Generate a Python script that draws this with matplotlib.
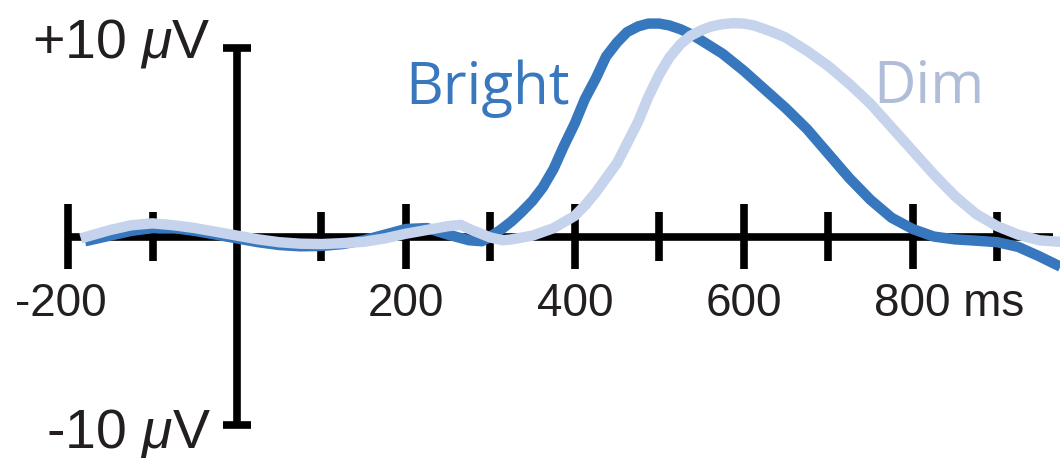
import matplotlib
matplotlib.use("Agg")
import matplotlib.pyplot as plt

plt.rcParams['font.family'] = ['Liberation Sans', 'DejaVu Sans']
plt.rcParams['mathtext.fontset'] = 'custom'
plt.rcParams['mathtext.rm'] = 'Liberation Sans'
plt.rcParams['mathtext.it'] = 'Liberation Sans:italic'

# ERP waveforms (ms, microvolts)
bright_t = [-180, -150, -125, -100, -75, -50, -25, 0, 25, 50, 75, 100, 125, 150, 175,
            200, 225, 250, 275, 290, 300, 312, 325, 337, 350, 362, 375, 387, 400, 412,
            425, 437, 450, 462, 475, 487, 500, 512, 525, 537, 550, 575, 600, 625, 650,
            675, 700, 725, 750, 775, 800, 825, 850, 875, 900, 925, 950, 975]
bright_v = [-0.25, 0.05, 0.3, 0.45, 0.45, 0.3, 0.1, -0.1, -0.3, -0.45, -0.52, -0.5, -0.4, -0.2, 0.1,
            0.4, 0.45, 0.1, -0.2, -0.25, 0.0, 0.35, 0.8, 1.3, 1.9, 2.6, 3.6, 4.8, 6.0, 7.3,
            8.4, 9.55, 10.3, 10.85, 11.15, 11.3, 11.3, 11.2, 11.0, 10.75, 10.4, 9.7, 8.8, 7.8, 6.8,
            5.7, 4.4, 3.1, 1.95, 1.0, 0.4, 0.0, -0.15, -0.22, -0.3, -0.55, -1.05, -1.6]

dim_t = [-185, -150, -125, -100, -75, -50, -25, 0, 25, 50, 75, 100, 125, 150, 175,
         200, 225, 250, 265, 275, 300, 315, 325, 350, 375, 400, 412, 425, 437, 450,
         462, 475, 487, 500, 512, 525, 537, 550, 562, 575, 587, 600, 612, 625, 637,
         650, 675, 700, 725, 750, 775, 800, 825, 850, 875, 900, 925, 950, 975]
dim_v = [-0.1, 0.35, 0.6, 0.7, 0.6, 0.45, 0.25, 0.05, -0.15, -0.3, -0.38, -0.4, -0.35, -0.28, -0.1,
         0.15, 0.35, 0.55, 0.62, 0.4, -0.05, -0.2, -0.15, 0.05, 0.45, 1.1, 1.65, 2.35, 3.1, 3.9,
         4.95, 6.1, 7.4, 8.6, 9.5, 10.2, 10.65, 10.95, 11.15, 11.27, 11.32, 11.3, 11.2, 11.0, 10.8,
         10.55, 9.85, 9.05, 8.1, 7.05, 5.8, 4.55, 3.3, 2.15, 1.2, 0.55, 0.1, -0.2, -0.28]

long_ticks = [-200, 200, 400, 600, 800]
short_ticks = [-100, 100, 300, 500, 700, 900]
tick_labels = ["-200", "200", "400", "600", "800 ms"]
x_end = 966
y_range = 10

blue = "#3777be"
pale = "#c5d3ec"

fig = plt.figure(figsize=(10.6, 4.58), dpi=100)
ax = fig.add_axes([0, 0, 1, 1])
ax.set_xlim(-280.6, 974.5)
ax.set_ylim(-11.75, 12.55)
ax.axis("off")

axis_kw = dict(color="black", lw=5.5, solid_capstyle="butt", zorder=1)

# time axis with ticks
ax.plot([-200, x_end], [0, 0], **axis_kw)
for t in long_ticks:
    ax.plot([t, t], [-1.72, 1.72], **axis_kw)
for t in short_ticks:
    ax.plot([t, t], [-1.28, 1.28], **axis_kw)

# voltage axis with end caps
ax.plot([0, 0], [-y_range, y_range], **axis_kw)
for v in (-y_range, y_range):
    ax.plot([-16.6, 16.6], [v, v], **axis_kw)

# waveforms
ax.plot(bright_t, bright_v, color=blue, lw=7.5, solid_capstyle="butt",
        solid_joinstyle="round", zorder=3)
ax.plot(dim_t, dim_v, color=pale, lw=7.5, solid_capstyle="butt",
        solid_joinstyle="round", zorder=4)

# tick labels: the three digits sit centred under each tick
half_digits = 27.7
for t, lab in zip(long_ticks, tick_labels):
    if lab.startswith("-"):
        ha, dx = "right", half_digits
    elif " " in lab:
        ha, dx = "left", -half_digits
    else:
        ha, dx = "center", 0
    ax.annotate(lab, xy=(t, -4.2), xytext=(dx, 0), textcoords="offset points",
                ha=ha, va="baseline", fontsize=33, color="#231f20")

ax.text(-31, 9.52, r"+10 $\mu$V", ha="right", va="baseline", fontsize=40, color="#231f20")
ax.text(-31, -11.2, r"-10 $\mu$V", ha="right", va="baseline", fontsize=40, color="#231f20")

ax.text(199, 7.03, "Bright", ha="left", va="baseline", fontsize=42,
        family="Open Sans", color="#3a78be")
ax.text(753, 7.08, "Dim", ha="left", va="baseline", fontsize=42,
        family="Open Sans", color="#b0bdd8")

fig.savefig("out.png", dpi=100)
